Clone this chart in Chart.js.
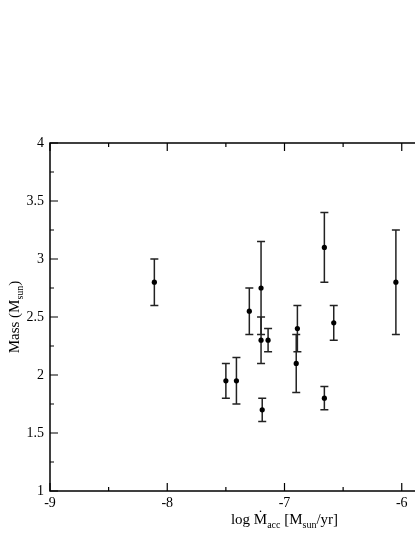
<!DOCTYPE html>
<html>
<head>
<meta charset="utf-8">
<script src="https://cdn.jsdelivr.net/npm/chart.js@4.4.0/dist/chart.umd.min.js"></script>
<style>
html,body{margin:0;padding:0;background:#fff;overflow:hidden;width:415px;height:537px;}
canvas{display:block;}
</style>
</head>
<body>
<canvas id="c" width="560" height="537" style="width:560px;height:537px"></canvas>
<script>
// Data
const logMacc = [-8.11, -7.50, -7.41, -7.30, -7.20, -7.20, -7.14, -7.19, -6.66, -6.05, -6.89, -6.90, -6.58, -6.66];
const massVals = [2.80, 1.95, 1.95, 2.55, 2.75, 2.30, 2.30, 1.70, 3.10, 2.80, 2.40, 2.10, 2.45, 1.80];
const massErr = [0.20, 0.15, 0.20, 0.20, 0.40, 0.20, 0.10, 0.10, 0.30, 0.45, 0.20, 0.25, 0.15, 0.10];
const xTicks = [-9, -8, -7, -6, -5];
const yTicks = [1, 1.5, 2, 2.5, 3, 3.5, 4];

const points = logMacc.map((x, i) => ({x: x, y: massVals[i]}));
const SERIF = '"Liberation Serif","DejaVu Serif","Times New Roman",serif';

const errorBars = {
  id: 'errorBars',
  beforeDatasetsDraw(chart) {
    const ctx = chart.ctx, xs = chart.scales.x, ys = chart.scales.y;
    ctx.save();
    ctx.strokeStyle = '#222';
    ctx.lineWidth = 1.5;
    logMacc.forEach((x, i) => {
      const px = xs.getPixelForValue(x);
      const top = ys.getPixelForValue(massVals[i] + massErr[i]);
      const bot = ys.getPixelForValue(massVals[i] - massErr[i]);
      ctx.beginPath();
      ctx.moveTo(px, top); ctx.lineTo(px, bot);
      ctx.moveTo(px - 4, top); ctx.lineTo(px + 4, top);
      ctx.moveTo(px - 4, bot); ctx.lineTo(px + 4, bot);
      ctx.stroke();
    });
    ctx.restore();
  }
};

const frame = {
  id: 'frame',
  afterDraw(chart) {
    const ctx = chart.ctx, a = chart.chartArea, xs = chart.scales.x, ys = chart.scales.y;
    ctx.save();
    ctx.strokeStyle = '#000';
    ctx.lineWidth = 1.5;
    ctx.strokeRect(a.left, a.top, a.right - a.left, a.bottom - a.top);
    ctx.lineWidth = 1.2;
    ctx.beginPath();
    for (let v = -9; v <= -5.001; v += 0.5) {
      const px = xs.getPixelForValue(v);
      const len = Math.abs(v - Math.round(v)) < 1e-6 ? 8 : 4;
      ctx.moveTo(px, a.bottom); ctx.lineTo(px, a.bottom - len);
      ctx.moveTo(px, a.top); ctx.lineTo(px, a.top + len);
    }
    for (let v = 1; v <= 4.001; v += 0.25) {
      const py = ys.getPixelForValue(v);
      const len = Math.abs(v * 2 - Math.round(v * 2)) < 1e-6 ? 8 : 4;
      ctx.moveTo(a.left, py); ctx.lineTo(a.left + len, py);
      ctx.moveTo(a.right, py); ctx.lineTo(a.right - len, py);
    }
    ctx.stroke();

    // Axis titles with subscripts
    ctx.fillStyle = '#000';
    ctx.textBaseline = 'alphabetic';
    ctx.save();
    ctx.translate(19, (a.top + a.bottom) / 2);
    ctx.rotate(-Math.PI / 2);
    const big = '15px ' + SERIF, small = '10px ' + SERIF;
    const p1 = 'Mass (M', p3 = ')';
    ctx.font = small; const w2 = ctx.measureText('sun').width;
    ctx.font = big;
    const w1 = ctx.measureText(p1).width, w3 = ctx.measureText(p3).width;
    let sx = -(w1 + w2 + w3) / 2;
    ctx.textAlign = 'left';
    ctx.fillText(p1, sx, 0); sx += w1;
    ctx.font = small; ctx.fillText('sun', sx, 4); sx += w2;
    ctx.font = big; ctx.fillText(p3, sx, 0);
    ctx.restore();

    // X title: log Ṁacc [Msun/yr]
    const parts = [
      ['log ', big, 0], ['M', big, 0, true], ['acc', small, 4], [' [M', big, 0], ['sun', small, 4], ['/yr]', big, 0]
    ];
    let total = 0;
    parts.forEach(p => { ctx.font = p[1]; total += ctx.measureText(p[0]).width; });
    let cx = (a.left + a.right) / 2 - total / 2;
    const base = 524;
    ctx.textAlign = 'left';
    parts.forEach(p => {
      ctx.font = p[1];
      const w = ctx.measureText(p[0]).width;
      ctx.fillText(p[0], cx, base + p[2]);
      if (p[3]) {
        ctx.fillText('\u02D9', cx + w / 2 - ctx.measureText('\u02D9').width / 2, base - 4);
      }
      cx += w;
    });
    ctx.restore();
  }
};

new Chart(document.getElementById('c'), {
  type: 'scatter',
  data: {
    datasets: [{
      data: points,
      backgroundColor: '#000',
      borderColor: '#000',
      pointRadius: 2.6,
      pointHoverRadius: 2.6,
      borderWidth: 0
    }]
  },
  options: {
    responsive: false,
    animation: false,
    devicePixelRatio: 1,
    events: [],
    layout: {padding: {top: 143, right: 41, left: 0, bottom: 0}},
    plugins: {legend: {display: false}, tooltip: {enabled: false}},
    scales: {
      x: {
        type: 'linear', min: -9, max: -5,
        afterFit(s) { s.height = 46; },
        afterBuildTicks(s) { s.ticks = xTicks.map(v => ({value: v})); },
        grid: {display: false, drawTicks: false},
        border: {display: false},
        ticks: {color: '#000', padding: 4, autoSkip: false, maxRotation: 0, font: {family: SERIF, size: 14},
          callback: v => String(v)}
      },
      y: {
        type: 'linear', min: 1, max: 4,
        afterFit(s) { s.width = 50; },
        afterBuildTicks(s) { s.ticks = yTicks.map(v => ({value: v})); },
        grid: {display: false, drawTicks: false},
        border: {display: false},
        ticks: {color: '#000', padding: 6, autoSkip: false, font: {family: SERIF, size: 14},
          callback: v => String(v)}
      }
    }
  },
  plugins: [errorBars, frame]
});
</script>
</body>
</html>
